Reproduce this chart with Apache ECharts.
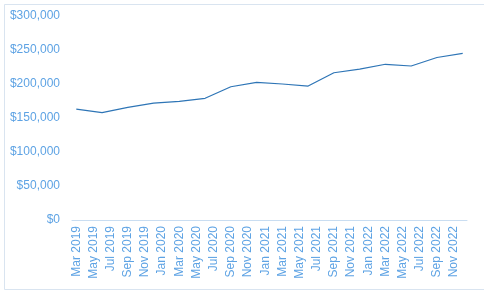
<!DOCTYPE html>
<html>
<head>
<meta charset="utf-8">
<script src="https://cdn.jsdelivr.net/npm/echarts@6/dist/echarts.min.js"></script>
<style>
html,body{margin:0;padding:0;background:#fff;}
#c{width:484px;height:292px;}
</style>
</head>
<body>
<div id="c"></div>
<script>
// Monthly category axis (labels shown every other month)
const months = ['Jan','Feb','Mar','Apr','May','Jun','Jul','Aug','Sep','Oct','Nov','Dec'];
const categories = [];
for (let y = 2019; y <= 2022; y++) {
  for (let m = 0; m < 12; m++) {
    if (y === 2019 && m < 2) continue;
    categories.push(months[m] + ' ' + y);
  }
}
// Quarterly observations
const dates = ['Mar 2019','Jun 2019','Sep 2019','Dec 2019','Mar 2020','Jun 2020','Sep 2020','Dec 2020',
               'Mar 2021','Jun 2021','Sep 2021','Dec 2021','Mar 2022','Jun 2022','Sep 2022','Dec 2022'];
const values = [163000,158000,165500,172000,174500,179000,196000,202500,
                200000,197000,216500,222000,229000,226500,239000,245000];
const yTicks = [0, 50000, 100000, 150000, 200000, 250000, 300000];

const chart = echarts.init(document.getElementById('c'), null, {renderer:'canvas'});
chart.setOption({
  animation: false,
  backgroundColor: '#fff',
  graphic: [{
    type: 'rect', left: 2, top: 2, silent: true,
    shape: {width: 480, height: 285},
    style: {fill: 'none', stroke: '#d9e4f0', lineWidth: 1}
  }],
  grid: {left: 72, right: 17, top: 16, bottom: 72},
  xAxis: {
    type: 'category',
    data: categories,
    boundaryGap: true,
    axisLine: {lineStyle: {color: '#c9ddf1', width: 1}},
    axisTick: {show: false},
    axisLabel: {
      interval: 1, rotate: 90, margin: 6,
      color: '#5ea3e4', fontFamily: 'Liberation Sans', fontSize: 12
    },
    splitLine: {show: false}
  },
  yAxis: {
    type: 'value',
    min: yTicks[0], max: yTicks[yTicks.length - 1], interval: 50000,
    axisLine: {show: false},
    axisTick: {show: false},
    splitLine: {show: false},
    axisLabel: {
      margin: 12, color: '#5ea3e4', fontFamily: 'Liberation Sans', fontSize: 12,
      formatter: v => '$' + v.toLocaleString('en-US')
    }
  },
  series: [{
    type: 'line',
    data: dates.map((d, i) => [d, values[i]]),
    showSymbol: false,
    lineStyle: {color: '#2e75b6', width: 1.2},
    itemStyle: {color: '#2e75b6'}
  }]
});
</script>
</body>
</html>
